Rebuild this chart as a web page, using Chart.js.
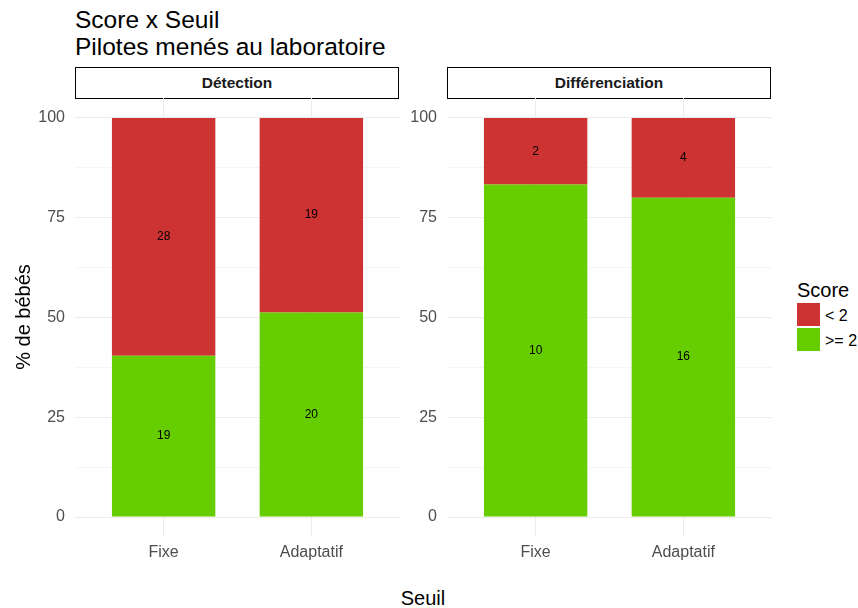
<!DOCTYPE html>
<html>
<head>
<meta charset="utf-8">
<script src="https://cdn.jsdelivr.net/npm/chart.js@4.4.0/dist/chart.umd.min.js"></script>
<style>
  body { margin: 0; background: #fff; font-family: "Liberation Sans", Arial, sans-serif; }
  #wrap { position: relative; width: 858px; height: 608px; overflow: hidden; }
  .abs { position: absolute; line-height: 1; white-space: nowrap; }
  .title { left: 75px; font-size: 24.5px; color: #000; }
  .strip { top: 67px; height: 30px; border: 1.5px solid #000; box-sizing: content-box;
           font-weight: bold; font-size: 15.5px; color: #1a1a1a; text-align: center; line-height: 30px; }
  .key { width: 23px; height: 23px; left: 797px; }
  .klab { left: 825px; font-size: 16px; color: #000; }
</style>
</head>
<body>
<div id="wrap">
  <div class="abs title" style="top:8px">Score x Seuil</div>
  <div class="abs title" style="top:35px">Pilotes menés au laboratoire</div>

  <div class="abs strip" style="left:75px;width:322px">Détection</div>
  <div class="abs strip" style="left:447px;width:322px">Différenciation</div>

  <canvas id="c1" class="abs" style="left:0;top:98px"></canvas>
  <canvas id="c2" class="abs" style="left:400px;top:98px"></canvas>

  <div class="abs" style="left:-37px;top:307px;width:120px;text-align:center;font-size:20px;transform:rotate(-90deg)">% de bébés</div>
  <div class="abs" style="left:373px;top:588px;width:100px;text-align:center;font-size:20px">Seuil</div>

  <div class="abs" style="left:797px;top:280px;font-size:20px">Score</div>
  <div class="abs key" style="top:303px;background:#CD3333"></div>
  <div class="abs key" style="top:328px;background:#66CD00"></div>
  <div class="abs klab" style="top:308px">&lt; 2</div>
  <div class="abs klab" style="top:333px">&gt;= 2</div>
</div>

<script>
const seuils = ['Fixe', 'Adaptatif'];
const scoreLabels = ['< 2', '>= 2'];
const detectionLow = [28, 19];
const detectionHigh = [19, 20];
const diffLow = [2, 4];
const diffHigh = [10, 16];
const yTicks = [0, 25, 50, 75, 100];

const RED = '#CD3333';
const GREEN = '#66CD00';
const GRID = '#EBEBEB';
const FONT = '"Liberation Sans", Arial, sans-serif';

function pct(part, other) {
    return part.map((v, i) => v / (v + other[i]) * 100);
}

// write counts in the middle of each segment
const countLabels = {
    id: 'countLabels',
    afterDatasetsDraw(chart) {
        const ctx = chart.ctx;
        ctx.save();
        ctx.fillStyle = '#000';
        ctx.font = '12px ' + FONT;
        ctx.textAlign = 'center';
        ctx.textBaseline = 'middle';
        chart.data.datasets.forEach((ds, di) => {
            chart.getDatasetMeta(di).data.forEach((bar, i) => {
                ctx.fillText(String(ds.counts[i]), bar.x, (bar.y + bar.base) / 2);
            });
        });
        ctx.restore();
    }
};

function makePanel(id, width, axisWidth, low, high) {
    const canvas = document.getElementById(id);
    canvas.width = width;
    canvas.height = 470;
    canvas.style.width = width + 'px';
    canvas.style.height = '470px';

    const mk = (vals) => vals.map((v, i) => ({ x: i + 1, y: v }));

    new Chart(canvas.getContext('2d'), {
        type: 'bar',
        data: {
            datasets: [
                { label: scoreLabels[1], data: mk(pct(high, low)), counts: high, backgroundColor: GREEN },
                { label: scoreLabels[0], data: mk(pct(low, high)), counts: low, backgroundColor: RED }
            ]
        },
        options: {
            responsive: false,
            animation: false,
            maintainAspectRatio: false,
            layout: { padding: 0 },
            categoryPercentage: 1,
            barPercentage: 0.7,
            plugins: { legend: { display: false }, tooltip: { enabled: false } },
            scales: {
                x: {
                    type: 'linear',
                    stacked: true,
                    offset: false,
                    min: 0.4,
                    max: 2.6,
                    afterBuildTicks: s => { s.ticks = [{ value: 1 }, { value: 2 }]; },
                    afterFit: s => {
                        s.height = 470 - 439;
                        s.paddingLeft = 0;
                        s.paddingRight = 0;
                    },
                    border: { display: false },
                    grid: { color: GRID, lineWidth: 1, drawTicks: false, offset: false },
                    ticks: {
                        padding: 6,
                        color: '#4D4D4D',
                        font: { size: 16, family: FONT },
                        callback: v => seuils[v - 1]
                    }
                },
                y: {
                    stacked: true,
                    min: -5,
                    max: 105,
                    afterBuildTicks: s => {
                        const t = [];
                        for (let v = 0; v <= 100; v += 12.5) t.push(v);
                        s.ticks = t.map(v => ({ value: v }));
                    },
                    afterFit: s => {
                        s.width = axisWidth;
                        s.paddingTop = 0;
                        s.paddingBottom = 0;
                    },
                    border: { display: false },
                    grid: {
                        color: GRID,
                        drawTicks: false,
                        lineWidth: c => (yTicks.includes(c.tick.value) ? 1 : 0.5)
                    },
                    ticks: {
                        padding: 10,
                        color: '#4D4D4D',
                        font: { size: 16, family: FONT },
                        callback: v => (yTicks.includes(v) ? String(v) : '')
                    }
                }
            }
        },
        plugins: [countLabels]
    });
}

makePanel('c1', 400, 75, detectionLow, detectionHigh);
makePanel('c2', 372, 47, diffLow, diffHigh);
</script>
</body>
</html>
